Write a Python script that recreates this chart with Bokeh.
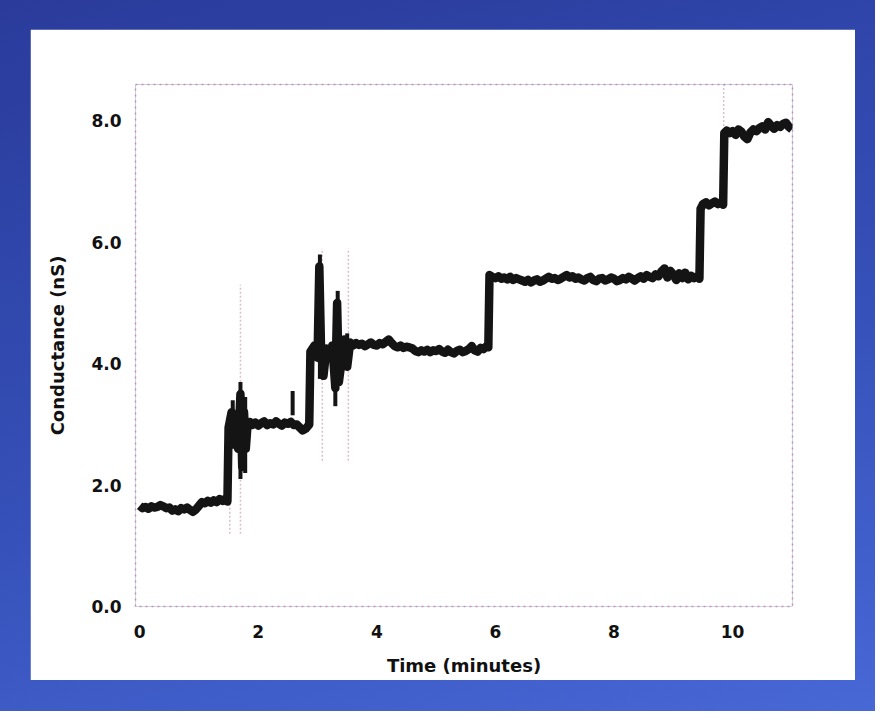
from bokeh.plotting import figure
from bokeh.layouts import column
from bokeh.models import Range1d, FixedTicker, NumeralTickFormatter
from bokeh.embed import file_html
from bokeh.resources import INLINE

# ---- data, one plateau per pair of lists ----
t_a = [0.00, 0.05, 0.10, 0.15, 0.20, 0.25, 0.30, 0.35, 0.40, 0.45, 0.50, 0.55, 0.60, 0.65, 0.70, 0.75,
       0.80, 0.85, 0.90, 0.95, 1.00, 1.05, 1.10, 1.15, 1.20, 1.25, 1.30, 1.35, 1.40, 1.45, 1.48]
g_a = [1.66, 1.62, 1.64, 1.61, 1.65, 1.63, 1.64, 1.67, 1.65, 1.62, 1.63, 1.58, 1.60, 1.57, 1.62, 1.60,
       1.63, 1.59, 1.56, 1.60, 1.66, 1.72, 1.70, 1.74, 1.71, 1.75, 1.72, 1.77, 1.74, 1.78, 1.73]

t_b = [1.50, 1.55, 1.58, 1.62, 1.66, 1.70, 1.73, 1.76, 1.79, 1.82, 1.86, 1.90, 1.95, 2.00, 2.05, 2.10,
       2.15, 2.20, 2.25, 2.30, 2.35, 2.40, 2.45, 2.50, 2.55, 2.60, 2.65, 2.70, 2.75, 2.80, 2.86]
g_b = [2.95, 3.20, 2.70, 3.10, 2.60, 3.50, 2.30, 3.20, 2.60, 3.00, 3.04, 2.99, 3.03, 2.98, 3.02, 3.05,
       2.99, 3.02, 3.00, 3.05, 3.01, 2.98, 3.03, 3.01, 3.04, 2.99, 3.00, 2.95, 2.90, 2.93, 3.00]

t_c = [2.88, 2.95, 3.00, 3.03, 3.06, 3.10, 3.15, 3.20, 3.25, 3.30, 3.33, 3.36, 3.40, 3.45, 3.50, 3.55,
       3.60, 3.65, 3.70, 3.75, 3.80, 3.85, 3.90, 3.95, 4.00, 4.05, 4.10, 4.15, 4.20, 4.25, 4.30, 4.35,
       4.40, 4.45, 4.50, 4.55, 4.60, 4.65, 4.70, 4.75, 4.80, 4.85, 4.90, 4.95, 5.00, 5.05, 5.10, 5.15,
       5.20, 5.25, 5.30, 5.35, 5.40, 5.45, 5.50, 5.55, 5.60, 5.65, 5.70, 5.75, 5.80, 5.85, 5.88]
g_c = [4.20, 4.30, 4.10, 5.60, 4.20, 3.80, 4.25, 4.10, 4.30, 3.60, 5.00, 3.70, 4.00, 4.40, 3.95, 4.35,
       4.30, 4.34, 4.31, 4.33, 4.29, 4.32, 4.35, 4.31, 4.30, 4.34, 4.32, 4.36, 4.40, 4.34, 4.29, 4.27,
       4.30, 4.26, 4.28, 4.27, 4.25, 4.21, 4.19, 4.22, 4.20, 4.23, 4.19, 4.22, 4.21, 4.24, 4.20, 4.18,
       4.23, 4.19, 4.17, 4.21, 4.23, 4.19, 4.21, 4.24, 4.29, 4.22, 4.20, 4.26, 4.24, 4.29, 4.27]

t_d = [5.90, 5.95, 6.00, 6.05, 6.10, 6.15, 6.20, 6.25, 6.30, 6.35, 6.40, 6.45, 6.50, 6.55, 6.60, 6.65,
       6.70, 6.75, 6.80, 6.85, 6.90, 6.95, 7.00, 7.05, 7.10, 7.15, 7.20, 7.25, 7.30, 7.35, 7.40, 7.45,
       7.50, 7.55, 7.60, 7.65, 7.70, 7.75, 7.80, 7.85, 7.90, 7.95, 8.00, 8.05, 8.10, 8.15, 8.20, 8.25,
       8.30, 8.35, 8.40, 8.45, 8.50, 8.55, 8.60, 8.65, 8.70, 8.75, 8.80, 8.85, 8.90, 8.95, 9.00, 9.05,
       9.10, 9.15, 9.20, 9.25, 9.30, 9.35, 9.40, 9.44]
g_d = [5.46, 5.43, 5.41, 5.44, 5.40, 5.42, 5.39, 5.43, 5.38, 5.41, 5.39, 5.37, 5.35, 5.38, 5.34, 5.37,
       5.39, 5.35, 5.37, 5.40, 5.43, 5.40, 5.41, 5.38, 5.40, 5.43, 5.46, 5.42, 5.44, 5.40, 5.42, 5.39,
       5.37, 5.41, 5.43, 5.38, 5.36, 5.40, 5.41, 5.37, 5.39, 5.42, 5.40, 5.36, 5.38, 5.41, 5.39, 5.43,
       5.40, 5.37, 5.41, 5.44, 5.40, 5.46, 5.43, 5.41, 5.47, 5.44, 5.52, 5.57, 5.42, 5.53, 5.47, 5.38,
       5.49, 5.41, 5.50, 5.39, 5.45, 5.41, 5.44, 5.40]

t_e = [9.46, 9.50, 9.55, 9.60, 9.65, 9.70, 9.75, 9.80, 9.84]
g_e = [6.55, 6.63, 6.66, 6.61, 6.64, 6.67, 6.63, 6.66, 6.62]

t_f = [9.86, 9.90, 9.95, 10.00, 10.05, 10.10, 10.15, 10.20, 10.25, 10.30, 10.35, 10.40, 10.45, 10.50,
       10.55, 10.60, 10.65, 10.70, 10.75, 10.80, 10.85, 10.90, 10.95, 11.00]
g_f = [7.80, 7.84, 7.80, 7.83, 7.77, 7.86, 7.82, 7.74, 7.70, 7.81, 7.86, 7.83, 7.88, 7.91,
       7.86, 7.98, 7.92, 7.87, 7.93, 7.90, 7.95, 7.97, 7.90, 7.86]

# vertical noise spikes (black)
spike_t = [1.57, 1.70, 1.78, 2.58, 3.04, 3.30, 3.34, 3.50]
spike_lo = [2.60, 2.10, 2.20, 3.15, 3.75, 3.30, 3.90, 3.90]
spike_hi = [3.40, 3.70, 3.45, 3.55, 5.80, 4.30, 5.20, 4.50]

# faint recorder artifacts (pink)
artifact_t = [1.52, 1.70, 3.08, 3.52, 9.44, 9.85]
artifact_lo = [1.20, 1.20, 2.40, 2.40, 5.50, 6.60]
artifact_hi = [3.00, 5.30, 5.90, 5.90, 6.60, 8.60]

x_ticks = [0, 2, 4, 6, 8, 10]
y_ticks = [0.0, 2.0, 4.0, 6.0, 8.0]

time_min = t_a + t_b + t_c + t_d + t_e + t_f
conductance_ns = g_a + g_b + g_c + g_d + g_e + g_f

FONT = "DejaVu Sans"

p = figure(width=825, height=651, output_backend="svg", toolbar_location=None,
           x_range=Range1d(-0.07, 11.01), y_range=Range1d(0, 8.6),
           min_border_left=105, min_border_right=63, min_border_top=55, min_border_bottom=74)
p.margin = (29, 20, 31, 30)
p.background_fill_color = "white"
p.border_fill_color = "white"
p.grid.visible = False
p.outline_line_color = "#c0809a"
p.outline_line_alpha = 0.8
p.outline_line_dash = "2 4"
p.outline_line_width = 1.5

for ax in (p.xaxis[0], p.yaxis[0]):
    ax.axis_line_color = None
    ax.major_tick_line_color = None
    ax.minor_tick_line_color = None
    ax.major_label_text_font = FONT
    ax.major_label_text_font_style = "bold"
    ax.major_label_text_font_size = "17px"
    ax.major_label_text_color = "#111111"
    ax.axis_label_text_font = FONT
    ax.axis_label_text_font_style = "bold"
    ax.axis_label_text_font_size = "18px"
    ax.axis_label_text_color = "#111111"

p.xaxis.ticker = FixedTicker(ticks=x_ticks)
p.yaxis.ticker = FixedTicker(ticks=y_ticks)
p.yaxis.formatter = NumeralTickFormatter(format="0.0")
p.xaxis.axis_label = "Time (minutes)"
p.yaxis.axis_label = "Conductance (nS)"
p.xaxis.major_label_standoff = 12
p.yaxis.major_label_standoff = 8
p.xaxis.axis_label_standoff = 14
p.yaxis.axis_label_standoff = 20

p.segment(x0=artifact_t, y0=artifact_lo, x1=artifact_t, y1=artifact_hi,
          line_color="#b0708e", line_alpha=0.45, line_width=1.5, line_dash="2 2")
p.segment(x0=spike_t, y0=spike_lo, x1=spike_t, y1=spike_hi,
          line_color="#141414", line_width=4)
p.line(time_min, conductance_ns, line_color="#141414", line_width=8.5, line_join="round")

layout = column(p, styles={"background": "linear-gradient(165deg, #2a3b9b 0%, #3550b8 55%, #4868d6 100%)"})

open("out.html", "w").write(file_html(layout, INLINE))
